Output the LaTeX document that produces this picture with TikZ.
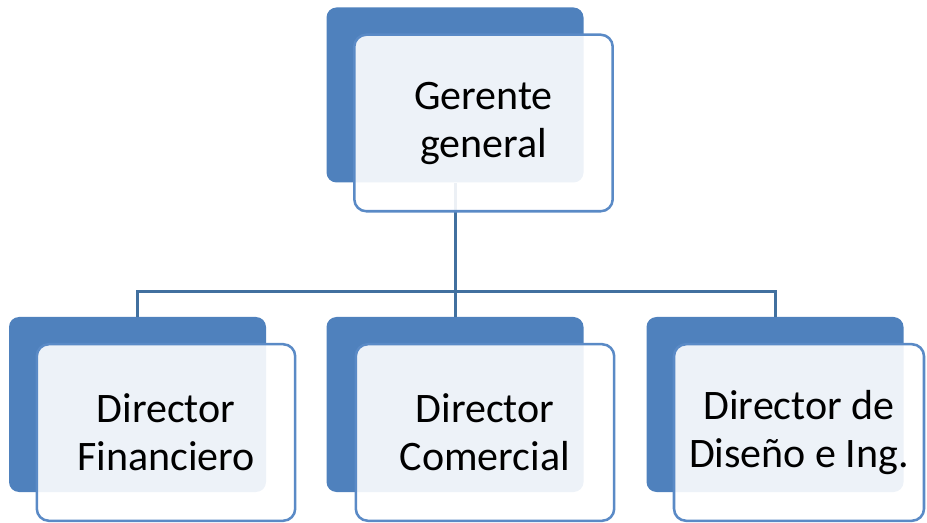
\documentclass[tikz,border=0pt]{standalone}
\usepackage{fontspec}
\setmainfont{Carlito}
\definecolor{boxblue}{HTML}{4F81BD}
\definecolor{edgeblue}{HTML}{5A8AC6}
\definecolor{linkblue}{HTML}{41709F}

\begin{document}
\begin{tikzpicture}[x=0.75pt,y=-0.75pt,
  backbox/.style={fill=boxblue,rounded corners=7.5pt,inner sep=0pt,
    minimum width=192.75pt,minimum height=131.25pt},
  frontbox/.style={draw=edgeblue,line width=1.9pt,fill=white,fill opacity=0.9,
    text opacity=1,rounded corners=9pt,inner sep=0pt,
    minimum width=193.8pt,minimum height=132.4pt,align=center,
    font=\fontsize{31.5}{36}\selectfont},
  link/.style={draw=linkblue,line width=2.25pt}]

\useasboundingbox (0,0) rectangle (927,523);

% back shapes
\node[backbox] (ggb) at (455,95) {};
\node[backbox] (dfb) at (137.5,404.5) {};
\node[backbox] (dcb) at (455,404.5) {};
\node[backbox] (dib) at (775,404.5) {};

% connectors
\coordinate (bus) at (455,292);
\draw[link] (ggb.south) -- (bus);
\draw[link] (dfb.north) |- (bus) -| (dib.north);
\draw[link] (bus) -- (dcb.north);

% front shapes
\node[frontbox] (gg) at (483.5,123) {Gerente\\general};
\node[frontbox] (df) at (166,432.5) {Director\\Financiero};
\node[frontbox] (dc) at (485,432.5) {Director\\Comercial};
\node[frontbox,minimum width=187.5pt] (di) at (799,432.5) {Director de\\Diseño e Ing.};
\end{tikzpicture}
\end{document}
